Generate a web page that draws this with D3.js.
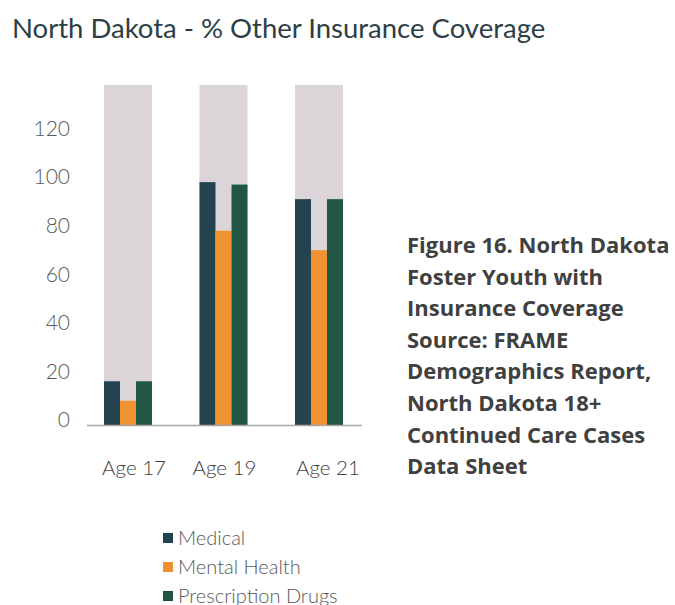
<!DOCTYPE html>
<html>
<head>
<meta charset="utf-8">
<script src="https://cdn.jsdelivr.net/npm/d3@7"></script>
<style>
  body { margin: 0; background: #fff; }
  svg { display: block; }
</style>
</head>
<body>
<svg class="main-svg" width="675" height="605"></svg>
<script>
'use strict'

// values
const ages = ['Age 17', 'Age 19', 'Age 21']
const medical = [18, 100, 93]
const mentalHealth = [10, 80, 72]
const prescription = [18, 99, 93]
const backdrop = [140, 140, 140]
const seriesNames = ['Medical', 'Mental Health', 'Prescription Drugs']
const seriesColors = ['#22434f', '#ef9230', '#215646']
const yTicks = [0, 20, 40, 60, 80, 100, 120]
const caption = ['Figure 16. North Dakota', 'Foster Youth with', 'Insurance Coverage',
  'Source: FRAME', 'Demographics Report,', 'North Dakota 18+', 'Continued Care Cases', 'Data Sheet']

;(function (d3) {
  const svg = d3.select('.main-svg')
  const series = [medical, mentalHealth, prescription]
  // the source nudges its category labels a little off the bar centres
  const labelNudge = [6, 1, 9]

  const x = d3.scaleBand().domain(ages).range([104, 343]).paddingInner(0.497).paddingOuter(0)
  const xInner = d3.scaleBand().domain(d3.range(series.length)).range([0, x.bandwidth()])
  const y = d3.scaleLinear().domain([0, 140]).range([425, 85])

  // title
  svg.append('text')
    .attr('x', 12).attr('y', 38)
    .attr('font-family', 'Lato').attr('font-size', 27.5)
    .attr('fill', '#2d3e46')
    .text('North Dakota - % Other Insurance Coverage')

  // grey backdrop bars
  svg.append('g').selectAll('rect')
    .data(ages)
    .join('rect')
    .attr('x', d => x(d))
    .attr('width', x.bandwidth())
    .attr('y', (d, i) => y(backdrop[i]))
    .attr('height', (d, i) => y(0) - y(backdrop[i]))
    .attr('fill', '#dbd5d9')

  // series bars
  const groups = svg.append('g').selectAll('g')
    .data(ages)
    .join('g')
    .attr('transform', d => `translate(${x(d)},0)`)

  groups.selectAll('rect')
    .data((d, i) => series.map((s, k) => ({ k, v: s[i] })))
    .join('rect')
    .attr('x', d => xInner(d.k))
    .attr('width', xInner.bandwidth())
    .attr('y', d => y(d.v))
    .attr('height', d => y(0) - y(d.v))
    .attr('fill', d => seriesColors[d.k])

  // baseline
  svg.append('line')
    .attr('x1', 87).attr('x2', 362)
    .attr('y1', y(0) + 0.5).attr('y2', y(0) + 0.5)
    .attr('stroke', '#a8a8a8').attr('stroke-width', 1.5)

  // y axis labels
  const yAxis = svg.append('g')
    .attr('transform', 'translate(70,-5)')
    .call(d3.axisLeft(y).tickValues(yTicks).tickSize(0).tickPadding(0))
  yAxis.select('.domain').remove()
  yAxis.selectAll('text')
    .attr('font-family', 'Lato').attr('font-weight', 300).attr('font-size', 21)
    .attr('fill', '#595959')

  // x axis labels
  const xAxis = svg.append('g')
    .attr('transform', `translate(0,${y(0)})`)
    .call(d3.axisBottom(x).tickSize(0).tickPadding(35))
  xAxis.select('.domain').remove()
  xAxis.selectAll('text')
    .attr('dx', (d, i) => labelNudge[i])
    .attr('font-family', 'Lato').attr('font-weight', 300).attr('font-size', 20.5)
    .attr('fill', '#404040')

  // legend
  const legend = svg.append('g').attr('transform', 'translate(163,538)')
  const item = legend.selectAll('g')
    .data(seriesNames)
    .join('g')
    .attr('transform', (d, i) => `translate(0,${i * 29})`)
  item.append('rect')
    .attr('x', 0).attr('y', -5).attr('width', 10).attr('height', 10)
    .attr('fill', (d, i) => seriesColors[i])
  item.append('text')
    .attr('x', 15).attr('y', 0).attr('dy', '0.35em')
    .attr('font-family', 'Lato').attr('font-weight', 300).attr('font-size', 20)
    .attr('fill', '#595959')
    .text(d => d)

  // caption on the right
  svg.append('g')
    .selectAll('text')
    .data(caption)
    .join('text')
    .attr('x', 407)
    .attr('y', (d, i) => 253 + i * 31.6)
    .attr('font-family', 'Open Sans').attr('font-weight', 'bold')
    .attr('font-size', 22)
    .attr('fill', '#404040')
    .text(d => d)
})(d3)
</script>
</body>
</html>
